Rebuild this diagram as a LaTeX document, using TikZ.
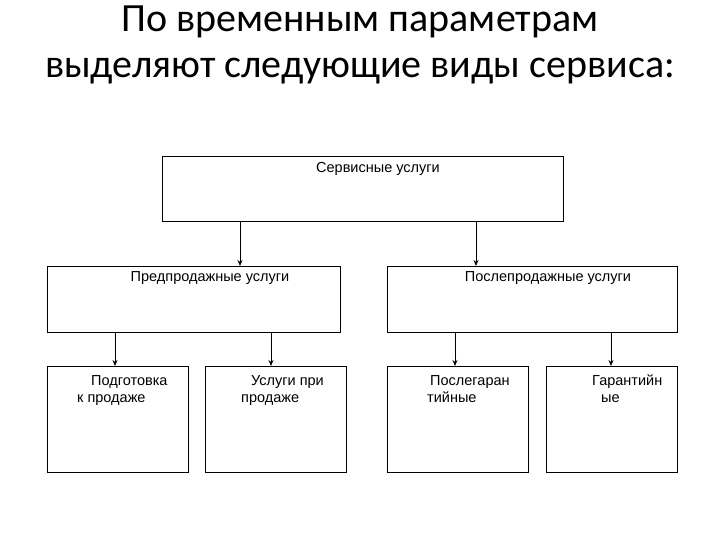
\documentclass[tikz,border=0pt]{standalone}
\usepackage{fontspec}
\setmainfont{Liberation Sans}
\newfontfamily\titlefont{Carlito}
\usetikzlibrary{arrows.meta}
\begin{document}
\begin{tikzpicture}[x=1pt,y=-1pt,
 box/.style={draw,line width=1pt},
 lbl/.style={font=\fontsize{14.5}{17}\selectfont,align=center,anchor=north},
 blbl/.style={font=\fontsize{14.5}{17}\selectfont,align=left,anchor=north west,inner sep=0pt},
 arr/.style={-{Stealth[length=6pt,width=5pt]},line width=0.8pt}]
\useasboundingbox (0,0) rectangle (720,540);
\node[font=\titlefont\fontsize{40}{46}\selectfont,align=center] (title) at (360,45) {По временным параметрам\\выделяют следующие виды сервиса:};
\draw[box] (162,157) rectangle (563,222);
\node[lbl] (top) at (378,159) {Сервисные услуги};
\draw[box] (47,266) rectangle (340,332);
\node[lbl] (pre) at (210,268) {Предпродажные услуги};
\draw[box] (387,266) rectangle (677,332);
\node[lbl] (post) at (548,268) {Послепродажные услуги};
\draw[box] (47,366) rectangle (188,472);
\draw[box] (205,366) rectangle (346,472);
\draw[box] (387,366) rectangle (528,472);
\draw[box] (546,366) rectangle (677,472);
\node[blbl] (b1) at (77,375) {\hspace{14pt}Подготовка\\к продаже};
\node[blbl] (b2) at (241,375) {\hspace{10pt}Услуги при\\продаже};
\node[blbl] (b3) at (427,375) {\hspace{3pt}Послегаран\\тийные};
\node[blbl] (b4) at (592,375) {Гарантийн\\\hspace{9pt}ые};
\coordinate (t1) at (240,222); \coordinate (t1e) at (240,266);
\coordinate (t2) at (476,222); \coordinate (t2e) at (476,266);
\coordinate (p1) at (115,332); \coordinate (p1e) at (115,366);
\coordinate (p2) at (271,332); \coordinate (p2e) at (271,366);
\coordinate (q1) at (455,332); \coordinate (q1e) at (455,366);
\coordinate (q2) at (611,332); \coordinate (q2e) at (611,366);
\draw[arr] (t1) -- (t1e);
\draw[arr] (t2) -- (t2e);
\draw[arr] (p1) -- (p1e);
\draw[arr] (p2) -- (p2e);
\draw[arr] (q1) -- (q1e);
\draw[arr] (q2) -- (q2e);
\end{tikzpicture}
\end{document}
